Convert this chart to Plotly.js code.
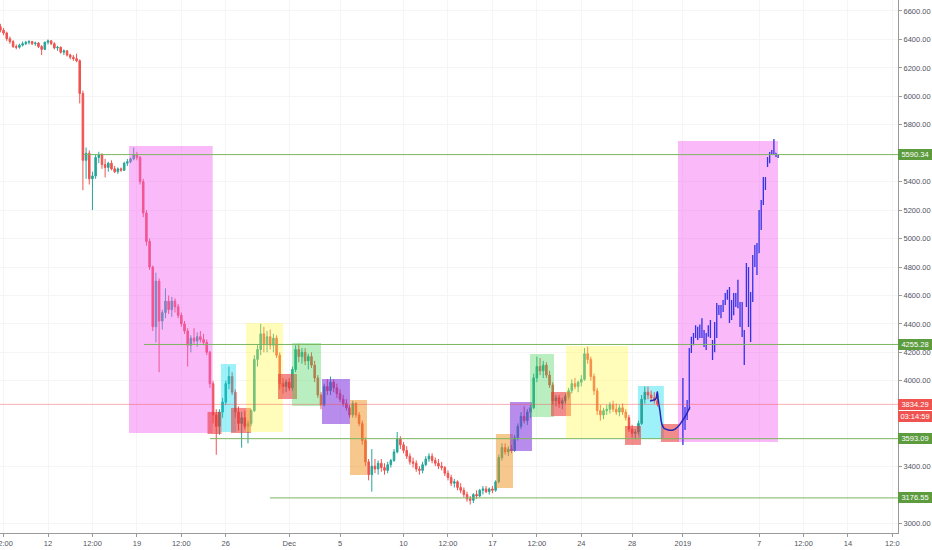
<!DOCTYPE html>
<html><head><meta charset="utf-8">
<script src="https://cdn.plot.ly/plotly-3.0.1.min.js"></script>
<style>html,body{margin:0;padding:0;background:#fff;overflow:hidden}#chart{width:932px;height:550px}</style>
</head><body><div id="chart"></div>
<script>
// ---- real 6h candles, first bar 2018-11-08 06:00 ----
const barStart = '2018-11-08T06:00:00Z';
const barHours = 6;
const opens = [
6490,6465,6445,6405, 6385,6350,6345,6360, 6370,6380,6385,6370, 6375,6350,6330,6380,
6390,6370,6340,6345, 6310,6320,6290,6275, 6265,6250,6020,5550, 5600,5420,5440,5570,
5590,5520,5500,5530, 5490,5470,5490,5480, 5530,5540,5560,5590, 5570,5400,5180,4980,
4800,4380,4700,4420, 4480,4560,4500,4560, 4520,4460,4400,4350, 4250,4300,4280,4310,
4290,4270,4200,3980, 3760,3680,3780,3850, 3980,4030,3920,3780, 3700,3740,3680,3700,
3790,4150,4220,4330, 4260,4310,4250,4300, 4180,3980,3960,3990, 3950,4080,4220,4170,
4200,4140,4170,4110, 4020,3900,3830,3960, 3930,3990,3950,3910, 3870,3840,3810,3760,
3840,3760,3700,3580, 3430,3340,3400,3380, 3420,3390,3370,3410, 3440,3500,3590,3550,
3510,3470,3430,3420, 3380,3370,3410,3450, 3470,3440,3420,3400, 3390,3350,3320,3280,
3290,3250,3230,3200, 3170,3160,3200,3190, 3230,3240,3220,3240, 3230,3290,3460,3530,
3500,3520,3510,3600, 3680,3750,3720,3780, 3810,4020,4100,4070, 4110,4040,3970,3860,
3880,3840,3860,3890, 3930,3980,3960,3990, 4010,4190,4150,4030, 3930,3790,3760,3790,
3800,3830,3800,3780, 3810,3780,3740,3660, 3630,3640,3700,3870, 3920,3900,3880,3860];
const highs = [
6510,6480,6455,6420, 6395,6365,6370,6385, 6390,6395,6390,6385, 6380,6360,6385,6400,
6395,6380,6355,6350, 6330,6325,6300,6290, 6300,6260,6040,5640, 5620,5470,5590,5610,
5600,5560,5540,5550, 5510,5500,5500,5540, 5560,5570,5640,5610, 5580,5420,5200,5000,
4810,4760,4720,4500, 4650,4600,4590,4580, 4540,4480,4420,4370, 4320,4370,4340,4350,
4330,4290,4210,4000, 3800,3800,3880,4000, 4100,4060,3940,3820, 3780,3790,3720,3800,
4180,4250,4400,4380, 4350,4360,4330,4320, 4200,4020,4010,4020, 4100,4250,4260,4230,
4230,4190,4200,4140, 4040,3920,3980,4010, 4030,4010,3980,3940, 3900,3870,3830,3860,
3850,3780,3720,3600, 3450,3520,3450,3440, 3450,3420,3430,3450, 3520,3640,3610,3570,
3540,3490,3460,3440, 3400,3430,3470,3490, 3490,3460,3450,3430, 3400,3370,3340,3310,
3300,3280,3250,3220, 3190,3210,3230,3240, 3260,3260,3250,3260, 3300,3480,3560,3560,
3540,3550,3620,3700, 3780,3820,3800,3830, 4050,4170,4160,4140, 4130,4070,3990,3900,
3900,3880,3910,3950, 4010,4020,4000,4040, 4230,4240,4170,4050, 3950,3830,3810,3830,
3850,3860,3840,3830, 3840,3800,3760,3690, 3660,3720,3900,3960, 3960,3930,3920,3880];
const lows = [
6450,6430,6390,6370, 6340,6330,6335,6350, 6360,6365,6360,6355, 6340,6290,6325,6365,
6360,6330,6320,6300, 6290,6280,6260,6250, 6240,5950,5340,5420, 5380,5200,5420,5530,
5490,5430,5470,5480, 5460,5455,5470,5475, 5510,5530,5550,5550, 5380,5150,4950,4780,
4350,4270,4060,4360, 4440,4470,4450,4480, 4440,4380,4330,4100, 4200,4260,4240,4270,
4250,4180,3950,3700, 3480,3620,3740,3830, 3940,3900,3740,3650, 3530,3660,3560,3680,
3780,4100,4180,4200, 4200,4220,4200,4160, 3940,3910,3920,3930, 3930,4060,4130,4120,
4110,4080,4090,3990, 3880,3800,3820,3900, 3900,3920,3880,3850, 3820,3790,3740,3740,
3740,3680,3550,3400, 3300,3220,3350,3340, 3360,3340,3350,3390, 3430,3490,3520,3490,
3450,3410,3390,3360, 3340,3350,3400,3430, 3420,3400,3380,3370, 3330,3300,3260,3250,
3230,3210,3180,3150, 3130,3140,3170,3180, 3200,3210,3200,3210, 3220,3280,3440,3480,
3470,3490,3500,3580, 3660,3700,3690,3740, 3800,3990,4040,4020, 4020,3950,3830,3820,
3810,3800,3840,3870, 3910,3940,3920,3960, 4000,4120,4000,3900, 3760,3720,3730,3760,
3770,3780,3760,3750, 3760,3720,3640,3600, 3590,3620,3690,3840, 3870,3860,3840,3820];
const closes = [
6465,6445,6405,6385, 6350,6345,6360,6370, 6380,6385,6370,6375, 6350,6330,6380,6390,
6370,6340,6345,6310, 6320,6290,6275,6265, 6250,6020,5550,5600, 5420,5440,5570,5590,
5520,5500,5530,5490, 5470,5490,5480,5530, 5540,5560,5590,5570, 5400,5180,4980,4800,
4380,4700,4420,4480, 4560,4500,4560,4520, 4460,4400,4350,4250, 4300,4280,4310,4290,
4270,4200,3980,3760, 3680,3780,3850,3980, 4030,3920,3780,3700, 3740,3680,3700,3790,
4150,4220,4330,4260, 4310,4250,4300,4180, 3980,3960,3990,3950, 4080,4220,4170,4200,
4140,4170,4110,4020, 3900,3830,3960,3930, 3990,3950,3910,3870, 3840,3810,3760,3840,
3760,3700,3580,3430, 3340,3400,3380,3420, 3390,3370,3410,3440, 3500,3590,3550,3510,
3470,3430,3420,3380, 3370,3410,3450,3470, 3440,3420,3400,3390, 3350,3320,3280,3290,
3250,3230,3200,3170, 3160,3200,3190,3230, 3240,3220,3240,3230, 3290,3460,3530,3500,
3520,3510,3600,3680, 3750,3720,3780,3810, 4020,4100,4070,4110, 4040,3970,3860,3880,
3840,3860,3890,3930, 3980,3960,3990,4010, 4190,4150,4030,3930, 3790,3760,3790,3800,
3830,3800,3780,3810, 3780,3740,3660,3630, 3640,3700,3870,3920, 3900,3880,3860,3834.29];

// ---- projected bars pattern (blue), 4h bars from 2019-01-01 00:00 ----
const projStart = '2019-01-01T00:00:00Z';
const projHours = 4;
const projOpen  = [3600,3800,3740,3820,4210,4280,4320,4360,4310,4370,4330,4260,4320,4360,4270,4210,4400,4520,4480,4500,4550,4600,4620,4450,4540,4580,4560,4550,4400,4340,4530,4780,4420,4580,4860,4920,4900,5080,5250,5420,5510,5560,5600,5610,5600,5580];
const projHigh  = [4019,3815,3865,4230,4310,4336,4390,4380,4395,4440,4357,4336,4390,4427,4287,4413,4547,4533,4533,4568,4617,4640,4660,4568,4617,4617,4710,4554,4554,4357,4828,4800,4624,4884,4955,4969,5201,5271,5433,5433,5574,5609,5623,5700,5601,5587];
const projLow   = [3548,3654,3724,3795,4195,4250,4300,4287,4300,4300,4237,4216,4310,4300,4146,4200,4300,4462,4440,4484,4533,4570,4406,4427,4460,4519,4510,4378,4308,4111,4519,4378,4273,4554,4800,4744,4898,5060,5236,5341,5503,5530,5587,5587,5574,5566];
const projClose = [3950,3700,3840,4200,4290,4320,4370,4300,4380,4330,4260,4320,4370,4310,4170,4400,4520,4480,4510,4550,4600,4620,4450,4540,4580,4560,4680,4400,4520,4150,4800,4420,4600,4860,4920,4780,5180,5250,5420,5360,5560,5600,5610,5650,5590,5575];

// ---- hand-drawn blue curve ----
const curveTimes  = ['2018-12-29 09:50','2018-12-29 20:38','2018-12-29 23:34','2018-12-30 01:26','2018-12-30 04:48','2018-12-30 07:55','2018-12-30 12:15','2018-12-30 20:24','2018-12-31 05:45','2018-12-31 13:26','2018-12-31 21:50','2019-01-01 05:46','2019-01-01 13:26'];
const curvePrices = [3858,3872,3923,3865,3783,3701,3666,3654,3654,3673,3712,3759,3814];

// ---- horizontal levels ----
const levelPrices = [5590.34, 4255.28, 3593.09, 3176.55];
const levelStarts = ['2018-11-14 20:00','2018-11-19 13:30','2018-11-24 18:15','2018-11-29 11:30'];
const lastPrice = 3834.29;
const countdown = '03:14:59';

// ---- axis ticks ----
const tickVals = ['2018-11-08 12:00','2018-11-12','2018-11-15 12:00','2018-11-19','2018-11-22 12:00','2018-11-26','2018-12-01','2018-12-05','2018-12-10','2018-12-13 12:00','2018-12-17','2018-12-20 12:00','2018-12-24','2018-12-28','2019-01-01','2019-01-07','2019-01-10 12:00','2019-01-14','2019-01-17 12:00'];
const tickText = ['12:00','12','12:00','19','12:00','26','Dec','5','10','12:00','17','12:00','24','28','2019','7','12:00','14','12:0'];
// price ticks that are not hidden under the price labels
const priceTicks = [3000,3400,4000,4200,4400,4600,4800,5000,5200,5400,5800,6000,6200,6400,6600];

// ---- rectangles drawn on the chart: start, end, top, bottom, colour, layer ----
const zoneStart = ['2018-11-18 09:07','2018-11-24 13:30','2018-11-25 14:55','2018-11-26 09:50','2018-11-27 14:10','2018-11-30 02:40','2018-12-01 05:13','2018-12-03 13:52','2018-12-05 18:43','2018-12-17 06:43','2018-12-18 09:10','2018-12-19 23:00','2018-12-21 14:40','2018-12-22 19:00','2018-12-27 10:33','2018-12-28 11:03','2018-12-30 06:30','2018-12-31 14:40'];
const zoneEnd   = ['2018-11-24 23:17','2018-11-25 15:53','2018-11-26 19:20','2018-11-27 23:40','2018-11-30 12:14','2018-12-01 14:40','2018-12-03 12:00','2018-12-05 18:43','2018-12-07 02:53','2018-12-18 14:53','2018-12-20 02:51','2018-12-21 20:24','2018-12-23 04:30','2018-12-27 16:17','2018-12-28 16:48','2018-12-30 12:00','2018-12-31 16:30','2019-01-08 11:45'];
const zoneTop   = [5651,3781,4118,3809,4406,4048,4266,4013,3865,3626,3851,4188,3921,4245,3682,3963,3696,5686];
const zoneBot   = [3633,3626,3640,3633,3640,3872,3823,3696,3338,3246,3506,3745,3752,3598,3549,3591,3570,3570];
const zoneKind  = ['pink','red','cyan','red','yellow','red','green','purple','orange','orange','purple','green','red','yellow','red','cyan','red','pink'];
const zoneLayer = ['above','above','above','above','above','above','above','above','above','above','above','above','above','above','above','between','between','between'];

const zoneColors = {
  pink:'rgba(243,90,243,0.42)', red:'rgba(232,55,55,0.58)', cyan:'rgba(0,215,240,0.38)',
  yellow:'rgba(255,250,60,0.36)', green:'rgba(60,210,80,0.36)', purple:'rgba(125,45,220,0.55)',
  orange:'rgba(240,145,30,0.5)'
};

function series(start, hours, n){
  const t0 = Date.parse(start), out = [];
  for (let i = 0; i < n; i++) out.push(new Date(t0 + i*hours*3600e3).toISOString().slice(0,16).replace('T',' '));
  return out;
}
const barTimes = series(barStart, barHours, closes.length);
const projTimes = series(projStart, projHours, projClose.length);

const FONT = 'Liberation Sans, Arial, sans-serif';
const UP = '#26a69a', DOWN = '#ef5350', BLUE = '#3232e6';
const LINE_GREEN = '#7cb55e', LABEL_GREEN = '#5c9c3f';

const traces = [
  {type:'candlestick', x:barTimes, open:opens, high:highs, low:lows, close:closes,
   increasing:{line:{color:UP,width:1}, fillcolor:UP},
   decreasing:{line:{color:DOWN,width:1}, fillcolor:DOWN},
   whiskerwidth:0, hoverinfo:'skip', showlegend:false},
  {type:'ohlc', x:projTimes, open:projOpen, high:projHigh, low:projLow, close:projClose,
   increasing:{line:{color:BLUE,width:1.3}}, decreasing:{line:{color:BLUE,width:1.3}},
   tickwidth:0.3, hoverinfo:'skip', showlegend:false},
  {type:'scatter', mode:'lines', x:curveTimes, y:curvePrices,
   line:{color:'#2626b8', width:1.5, shape:'spline'}, hoverinfo:'skip', showlegend:false}
];

const shapes = [];
for (let i = 0; i < zoneStart.length; i++) {
  shapes.push({type:'rect', xref:'x', yref:'y', x0:zoneStart[i], x1:zoneEnd[i], y0:zoneBot[i], y1:zoneTop[i],
    fillcolor:zoneColors[zoneKind[i]], line:{width:0}, layer:zoneLayer[i]});
}
shapes.push({type:'line', xref:'paper', yref:'y', x0:0, x1:1, y0:lastPrice, y1:lastPrice,
  line:{color:'rgba(239,83,80,0.45)', width:1}, layer:'above'});
for (let i = 0; i < levelPrices.length; i++) {
  shapes.push({type:'line', xref:'x', yref:'y', x0:levelStarts[i], x1:'2019-03-01', y0:levelPrices[i], y1:levelPrices[i],
    line:{color:LINE_GREEN, width:1}, layer:'above'});
}

const annotations = [];
function priceLabel(y, text, bg, yshift){
  annotations.push({xref:'paper', yref:'y', x:1, y:y, xanchor:'left', yanchor:'middle', yshift:yshift||0,
    text:text, showarrow:false, bgcolor:bg, borderpad:0, borderwidth:0, width:34, height:11, align:'center',
    font:{family:FONT, size:7.5, color:'#ffffff'}});
}
levelPrices.forEach(p => priceLabel(p, p.toFixed(2), LABEL_GREEN));
priceLabel(lastPrice, lastPrice.toFixed(2), '#ef5350', 0);
priceLabel(lastPrice, countdown, '#ef5350', -12);

const layout = {
  width:932, height:550, margin:{l:0, r:34, t:0, b:17},
  paper_bgcolor:'#ffffff', plot_bgcolor:'#ffffff', showlegend:false, hovermode:false,
  font:{family:FONT, size:7.5, color:'#50535e'},
  xaxis:{type:'date', range:['2018-11-08 05:17','2019-01-17 22:33'], rangeslider:{visible:false},
    tickmode:'array', tickvals:tickVals, ticktext:tickText, ticks:'outside', ticklen:3, tickcolor:'#9a9a9a',
    showline:true, linecolor:'#9a9a9a', linewidth:1, showgrid:true, gridcolor:'#f5f5f5', zeroline:false,
    tickfont:{family:FONT, size:7.5, color:'#50535e'}, ticklabeloverflow:'allow', fixedrange:true},
  yaxis:{side:'right', range:[2929.8, 6677.3], tickmode:'array', tickvals:priceTicks, tickformat:'.2f',
    ticks:'outside', ticklen:3, tickcolor:'#9a9a9a', showline:true, linecolor:'#9a9a9a', linewidth:1,
    showgrid:true, gridcolor:'#f5f5f5', zeroline:false, tickfont:{family:FONT, size:7.5, color:'#50535e'}, fixedrange:true},
  shapes:shapes, annotations:annotations
};

Plotly.newPlot('chart', traces, layout, {displayModeBar:false, staticPlot:true});
</script>
</body></html>
